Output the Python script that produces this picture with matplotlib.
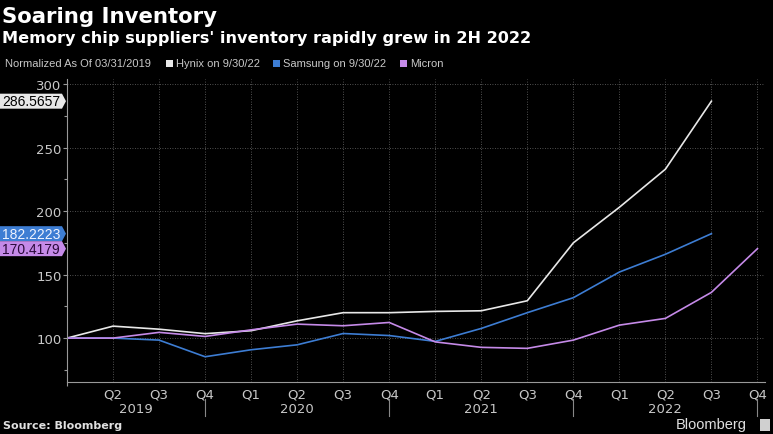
import matplotlib
matplotlib.use('Agg')
import matplotlib.pyplot as plt
from matplotlib.patches import Polygon, Rectangle
import matplotlib.transforms as mtransforms

# quarterly inventory, normalized to 100 at 03/31/2019
quarters = ['Q1', 'Q2', 'Q3', 'Q4', 'Q1', 'Q2', 'Q3', 'Q4',
            'Q1', 'Q2', 'Q3', 'Q4', 'Q1', 'Q2', 'Q3', 'Q4']
years = ['2019', '2020', '2021', '2022']
hynix = [100, 109.4, 107, 103.5, 105.8, 113.6, 120, 120,
         121, 121.5, 129.4, 175, 203, 233, 286.5657]
samsung = [100, 100, 98.4, 85.3, 90.8, 94.7, 103.6, 102,
           97.4, 107.6, 120, 131.8, 152, 166, 182.2223]
micron = [100, 100, 104.5, 101.3, 106.5, 111, 109.7, 112.3,
          97, 92.7, 91.9, 98.4, 110.2, 115.5, 136, 170.4179]

bg = 'black'
c_hynix = '#e8e8e8'
c_samsung = '#3d7dd3'
c_micron = '#c58ae8'
grey = '#c8c8c8'
narrow = ['Liberation Sans', 'DejaVu Sans']

fig = plt.figure(figsize=(7.73, 4.35), dpi=100, facecolor=bg)
ax = fig.add_axes([0.0867, 0.1195, 0.9033, 0.6965], facecolor=bg)

ax.plot(range(len(hynix)), hynix, color=c_hynix, lw=1.2)
ax.plot(range(len(samsung)), samsung, color=c_samsung, lw=1.2)
ax.plot(range(len(micron)), micron, color=c_micron, lw=1.2)

ax.set_xlim(0, 15.17)
ax.set_ylim(65.4, 304)

ax.set_yticks([100, 150, 200, 250, 300])
ax.set_yticks([75, 125, 175, 225, 275], minor=True)
ax.tick_params(axis='y', which='major', colors='#999999', labelcolor=grey,
               labelsize=9.5, length=3, width=0.8, pad=1)
ax.tick_params(axis='y', which='minor', colors='#999999', length=2, width=0.8)

ax.set_xticks(range(1, 16))
ax.set_xticklabels(quarters[1:])
ax.set_xticks([0], minor=True)
ax.tick_params(axis='x', which='major', length=0, labelcolor=grey, labelsize=9.5, pad=4)
ax.tick_params(axis='x', which='minor', length=3, colors='#999999', width=0.8)

ax.grid(True, which='major', color='#6a6a6a', linestyle=(0, (1, 2)), linewidth=0.6)
for s in ['top', 'right']:
    ax.spines[s].set_visible(False)
for s in ['left', 'bottom']:
    ax.spines[s].set_color('#999999')
    ax.spines[s].set_linewidth(0.8)

# year labels and separators below the quarters
trans = mtransforms.blended_transform_factory(ax.transData, ax.transAxes)
year_bounds = [0, 3, 7, 11, 15]
for i, yr in enumerate(years):
    mid = (year_bounds[i] + year_bounds[i + 1]) / 2
    ax.text(mid, -0.088, yr, transform=trans, ha='center', va='center',
            color=grey, fontsize=9.5)
for xb in year_bounds[1:]:
    ax.plot([xb, xb], [-0.056, -0.112], transform=trans, color='#888888',
            lw=0.8, clip_on=False)

# value tags on the left edge
fig.canvas.draw()
W, H = fig.bbox.width, fig.bbox.height
tags = [(hynix[-1], c_hynix, 'black'),
        (samsung[-1], c_samsung, '#f0f4ff'),
        (micron[-1], c_micron, '#2a0a3a')]
for val, fc, tc in tags:
    ypx = ax.transData.transform((0, val))[1]
    h = 7.5
    pts = [(0, ypx - h), (62, ypx - h), (66, ypx), (62, ypx + h), (0, ypx + h)]
    pts = [(x / W, y / H) for x, y in pts]
    fig.patches.append(Polygon(pts, closed=True, transform=fig.transFigure,
                               facecolor=fc, edgecolor='none'))
    fig.text(2 / W, ypx / H, '%.4f' % val, color=tc, fontsize=10,
             family=narrow, ha='left', va='center')

# titles
fig.text(0.003, 0.962, 'Soaring Inventory', color='white', fontsize=15.3,
         fontweight='bold', ha='left', va='center')
fig.text(0.003, 0.912, "Memory chip suppliers' inventory rapidly grew in 2H 2022",
         color='white', fontsize=11.6, fontweight='bold', ha='left', va='center')

# legend row
ly = 1 - 64 / H
fig.text(5 / W, ly, 'Normalized As Of 03/31/2019', color=grey, fontsize=8,
         family=narrow, ha='left', va='center')
for x0, col, lab in [(166, c_hynix, 'Hynix on 9/30/22'),
                     (273, c_samsung, 'Samsung on 9/30/22'),
                     (400, c_micron, 'Micron')]:
    fig.patches.append(Rectangle((x0 / W, ly - 3.5 / H), 7 / W, 7 / H,
                                 transform=fig.transFigure, facecolor=col,
                                 edgecolor='none'))
    fig.text((x0 + 10) / W, ly, lab, color=grey, fontsize=8, family=narrow,
             ha='left', va='center')

# footer
fig.text(3 / W, 1 - 426 / H, 'Source: Bloomberg', color='#e0e0e0', fontsize=8,
         fontweight='bold', ha='left', va='center')
fig.text(747 / W, 1 - 425 / H, 'Bloomberg', color='#e0e0e0', fontsize=10.5,
         family=narrow, ha='right', va='center')
fig.patches.append(Rectangle((760 / W, 1 - 432 / H), 10 / W, 12 / H,
                             transform=fig.transFigure, facecolor='#d0d0d0',
                             edgecolor='none'))

fig.savefig('out.png', dpi=100, facecolor=bg)
